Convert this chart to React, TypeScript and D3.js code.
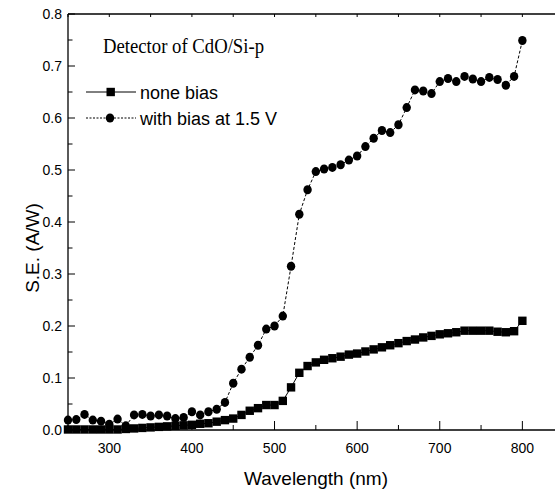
import React from "react";
import * as d3 from "d3";

const wavelengths = [
  250, 260, 270, 280, 290, 300, 310, 320, 330, 340, 350, 360, 370, 380, 390,
  400, 410, 420, 430, 440, 450, 460, 470, 480, 490, 500, 510, 520, 530, 540,
  550, 560, 570, 580, 590, 600, 610, 620, 630, 640, 650, 660, 670, 680, 690,
  700, 710, 720, 730, 740, 750, 760, 770, 780, 790, 800,
];

const noneBias = [
  0.001, 0.001, 0.001, 0.001, 0.001, 0.001, 0.001, 0.002, 0.003, 0.004, 0.005,
  0.006, 0.007, 0.008, 0.009, 0.010, 0.012, 0.013, 0.016, 0.019, 0.022, 0.029,
  0.037, 0.042, 0.048, 0.048, 0.056, 0.082, 0.110, 0.123, 0.130, 0.135, 0.138,
  0.141, 0.145, 0.147, 0.151, 0.155, 0.159, 0.163, 0.167, 0.171, 0.174, 0.178,
  0.181, 0.184, 0.186, 0.188, 0.191, 0.191, 0.191, 0.191, 0.189, 0.188, 0.190,
  0.210,
];

const withBias = [
  0.019, 0.020, 0.030, 0.019, 0.017, 0.011, 0.021, 0.008, 0.029, 0.030, 0.027,
  0.029, 0.027, 0.022, 0.024, 0.035, 0.029, 0.035, 0.040, 0.053, 0.090, 0.117,
  0.140, 0.163, 0.194, 0.200, 0.219, 0.315, 0.415, 0.462, 0.497, 0.502, 0.505,
  0.510, 0.519, 0.527, 0.545, 0.561, 0.576, 0.572, 0.587, 0.620, 0.654, 0.652,
  0.647, 0.670, 0.676, 0.670, 0.680, 0.675, 0.670, 0.678, 0.674, 0.663, 0.680,
  0.749,
];

const xTickLabels = [300, 400, 500, 600, 700, 800];
const yTickLabels = [0.0, 0.1, 0.2, 0.3, 0.4, 0.5, 0.6, 0.7, 0.8];
const seriesNames = ["none bias", "with bias at 1.5 V"];
const titleText = "Detector of CdO/Si-p";

const W = 555;
const H = 491;
const left = 68;
const right = 555;
const top = 14;
const bottom = 430;

export default function App() {
  const x = d3.scaleLinear().domain([250, 839.5]).range([left, right]);
  const y = d3.scaleLinear().domain([0, 0.8]).range([bottom, top]);

  const lineNone = d3
    .line<number>()
    .x((_, i) => x(wavelengths[i]))
    .y((d) => y(d));

  const xMinor = d3.range(250, 840, 50);
  const yMinor = d3.range(0, 0.801, 0.05);
  const sans = "'Liberation Sans', Arial, sans-serif";

  return (
    <svg
      width={W}
      height={H}
      style={{ position: "absolute", left: 0, top: 0, background: "#fff" }}
    >
      <rect x={0} y={0} width={W} height={H} fill="#fff" />
      {/* axes */}
      <g stroke="#000" strokeWidth={1.3} fill="none">
        <line x1={left} y1={top} x2={left} y2={bottom} />
        <line x1={left} y1={bottom} x2={right} y2={bottom} />
        <line x1={left} y1={top} x2={right} y2={top} />
      </g>
      {/* x ticks */}
      <g stroke="#000" strokeWidth={1}>
        {xMinor.map((v) => {
          const major = v % 100 === 0;
          return (
            <g key={"xt" + v}>
              <line x1={x(v)} x2={x(v)} y1={bottom} y2={bottom - (major ? 9 : 5)} />
              <line x1={x(v)} x2={x(v)} y1={top} y2={top + 3} />
            </g>
          );
        })}
        {yMinor.map((v, i) => {
          const major = i % 2 === 0;
          return (
            <line
              key={"yt" + i}
              x1={left}
              x2={left + (major ? 7 : 4.5)}
              y1={y(v)}
              y2={y(v)}
            />
          );
        })}
      </g>
      {/* tick labels */}
      <g fontFamily={sans} fontSize={14} fill="#000">
        {xTickLabels.map((v) => (
          <text key={"xl" + v} x={x(v)} y={bottom + 23} textAnchor="middle">
            {v}
          </text>
        ))}
        {yTickLabels.map((v) => (
          <text
            key={"yl" + v}
            x={left - 6}
            y={y(v)}
            dy="0.36em"
            textAnchor="end"
          >
            {v.toFixed(1)}
          </text>
        ))}
      </g>
      {/* axis titles */}
      <text
        x={316}
        y={485}
        textAnchor="middle"
        fontFamily={sans}
        fontSize={19}
      >
        Wavelength (nm)
      </text>
      <text
        transform={`translate(39,248) rotate(-90)`}
        textAnchor="middle"
        fontFamily={sans}
        fontSize={19}
      >
        S.E. (A/W)
      </text>
      {/* series lines */}
      <path
        d={lineNone(noneBias) || ""}
        fill="none"
        stroke="#000"
        strokeWidth={1}
      />
      <path
        d={lineNone(withBias) || ""}
        fill="none"
        stroke="#000"
        strokeWidth={1}
        strokeDasharray="3,2"
      />
      {/* markers */}
      <g fill="#000">
        {noneBias.map((v, i) => (
          <rect
            key={"s" + i}
            x={x(wavelengths[i]) - 4.2}
            y={y(v) - 4.2}
            width={8.4}
            height={8.4}
          />
        ))}
        {withBias.map((v, i) => (
          <ellipse
            key={"c" + i}
            cx={x(wavelengths[i])}
            cy={y(v)}
            rx={4.2}
            ry={4.5}
          />
        ))}
      </g>
      {/* title */}
      <text
        x={103}
        y={53}
        fontFamily="'Liberation Serif', 'Times New Roman', serif"
        fontSize={20}
        textLength={161}
        lengthAdjust="spacingAndGlyphs"
      >
        {titleText}
      </text>
      {/* legend */}
      <g>
        <line x1={86} x2={136} y1={92} y2={92} stroke="#000" strokeWidth={1} />
        <rect x={110.7 - 4.2} y={92 - 4.2} width={8.4} height={8.4} fill="#000" />
        <text x={140} y={98.5} fontFamily={sans} fontSize={18}>
          {seriesNames[0]}
        </text>
        <line
          x1={86}
          x2={136}
          y1={118}
          y2={118}
          stroke="#000"
          strokeWidth={1}
          strokeDasharray="2,1.5"
        />
        <ellipse cx={110} cy={118} rx={4.2} ry={4.5} fill="#000" />
        <text x={140} y={124.5} fontFamily={sans} fontSize={18}>
          {seriesNames[1]}
        </text>
      </g>
    </svg>
  );
}
